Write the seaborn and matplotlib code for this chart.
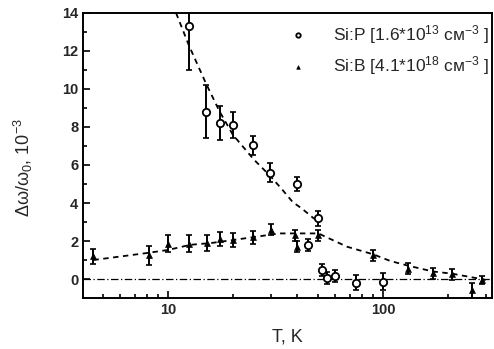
import numpy as np
import pandas as pd
import matplotlib
matplotlib.use("Agg")
import matplotlib.pyplot as plt
import seaborn as sns
from matplotlib.ticker import MultipleLocator, FixedLocator, NullFormatter, LogLocator

# Si:P data
p_T = [12.5, 15.0, 17.4, 20.0, 24.8, 29.8, 40.0, 44.6, 50.0, 52.0, 55.0, 60.0, 75.0, 100.0]
p_y = [13.3, 8.8, 8.2, 8.1, 7.05, 5.6, 5.0, 1.8, 3.2, 0.47, 0.05, 0.15, -0.2, -0.15]
p_err = [2.3, 1.4, 0.9, 0.7, 0.5, 0.5, 0.35, 0.3, 0.4, 0.3, 0.3, 0.3, 0.4, 0.45]

# Si:B data
b_T = [4.5, 8.2, 10.0, 12.5, 15.2, 17.4, 20.0, 24.8, 30.0, 39.0, 40.0, 50.0, 90.0, 130.0, 170.0, 209.0, 259.0, 287.0]
b_y = [1.2, 1.25, 1.85, 1.85, 1.9, 2.1, 2.05, 2.2, 2.6, 2.3, 1.7, 2.3, 1.25, 0.55, 0.3, 0.25, -0.6, -0.05]
b_err = [0.4, 0.5, 0.45, 0.45, 0.4, 0.35, 0.35, 0.35, 0.3, 0.3, 0.3, 0.3, 0.3, 0.3, 0.3, 0.3, 0.4, 0.2]

# fit curves
fitp_T = [10.9, 12.5, 15.0, 17.4, 20.0, 25.0, 30.0, 34.0, 38.0, 42.0, 47.5, 50.0]
fitp_y = [14.0, 12.3, 10.3, 8.8, 7.6, 6.3, 5.4, 4.7, 4.05, 3.7, 3.2, 3.05]
fitb_T = [4.5, 8.0, 10.0, 12.7, 16.0, 20.0, 33.0, 50.0, 68.0, 90.0, 108.0, 129.0, 170.0, 210.0, 280.0, 300.0]
fitb_y = [1.0, 1.37, 1.53, 1.8, 1.9, 2.05, 2.4, 2.4, 1.7, 1.3, 0.95, 0.72, 0.4, 0.28, 0.02, -0.05]

legend_labels = ["Si:P [1.6*10$^{13}$ см$^{-3}$ ]", "Si:B [4.1*10$^{18}$ см$^{-3}$ ]"]

sns.set_style("ticks")
plt.rcParams['font.family'] = ['Liberation Sans', 'DejaVu Sans']
plt.rcParams['mathtext.fontset'] = 'custom'
plt.rcParams['mathtext.rm'] = 'Liberation Sans'
plt.rcParams['mathtext.it'] = 'Liberation Sans'

fig = plt.figure(figsize=(4.94, 3.49), dpi=100)
ax = fig.add_axes([0.168, 0.146, 0.828, 0.817])

dfp = pd.DataFrame({"T": fitp_T, "y": fitp_y})
dfb = pd.DataFrame({"T": fitb_T, "y": fitb_y})
sns.lineplot(data=dfp, x="T", y="y", ax=ax, color="black", lw=1.3, linestyle=(0, (3, 2.5)))
sns.lineplot(data=dfb, x="T", y="y", ax=ax, color="black", lw=1.3, linestyle=(0, (3, 2.5)))
ax.axhline(0, color="black", lw=0.9, linestyle=(0, (6, 2, 1, 2)))

ax.errorbar(p_T, p_y, yerr=p_err, fmt="none", ecolor="black", elinewidth=1.4, capsize=2.5, capthick=1.2)
ax.errorbar(b_T, b_y, yerr=b_err, fmt="none", ecolor="black", elinewidth=1.4, capsize=2.5, capthick=1.2)

dP = pd.DataFrame({"T": p_T, "y": p_y})
dB = pd.DataFrame({"T": b_T, "y": b_y})
sns.scatterplot(data=dP, x="T", y="y", ax=ax, marker="o", s=28, facecolor="white",
                edgecolor="black", linewidth=1.3, label=legend_labels[0], zorder=5)
sns.scatterplot(data=dB, x="T", y="y", ax=ax, marker="^", s=18, color="black",
                edgecolor="black", linewidth=0.5, label=legend_labels[1], zorder=5)

ax.set_xscale("log")
ax.set_xlim(4.025, 321)
ax.set_ylim(-1, 14)
ax.yaxis.set_major_locator(MultipleLocator(2))
ax.yaxis.set_minor_locator(MultipleLocator(1))
ax.xaxis.set_major_locator(FixedLocator([10, 100]))
ax.xaxis.set_minor_locator(LogLocator(base=10, subs=np.arange(2, 10)))
ax.xaxis.set_minor_formatter(NullFormatter())
ax.set_xticklabels(["10", "100"])
ax.tick_params(which="both", direction="in", width=1.2, color="black")
ax.tick_params(which="major", length=5)
ax.tick_params(which="minor", length=3)
ax.tick_params(axis="both", labelsize=10.5)
for lab in ax.get_xticklabels() + ax.get_yticklabels():
    lab.set_fontweight("bold")

for s in ax.spines.values():
    s.set_linewidth(1.4)
    s.set_color("black")

ax.set_xlabel("T, K", fontsize=13, labelpad=8)
ax.set_ylabel("Δω/ω$_0$, 10$^{-3}$", fontsize=13)
ax.yaxis.set_label_coords(-0.117, 0.456)

leg = ax.legend(loc="upper right", frameon=False, fontsize=12.5, handletextpad=1.5,
                borderaxespad=0.0, labelspacing=0.5, handlelength=1.0, markerscale=0.6,
                bbox_to_anchor=(1.01, 0.99))

fig.savefig("out.png", dpi=100)
